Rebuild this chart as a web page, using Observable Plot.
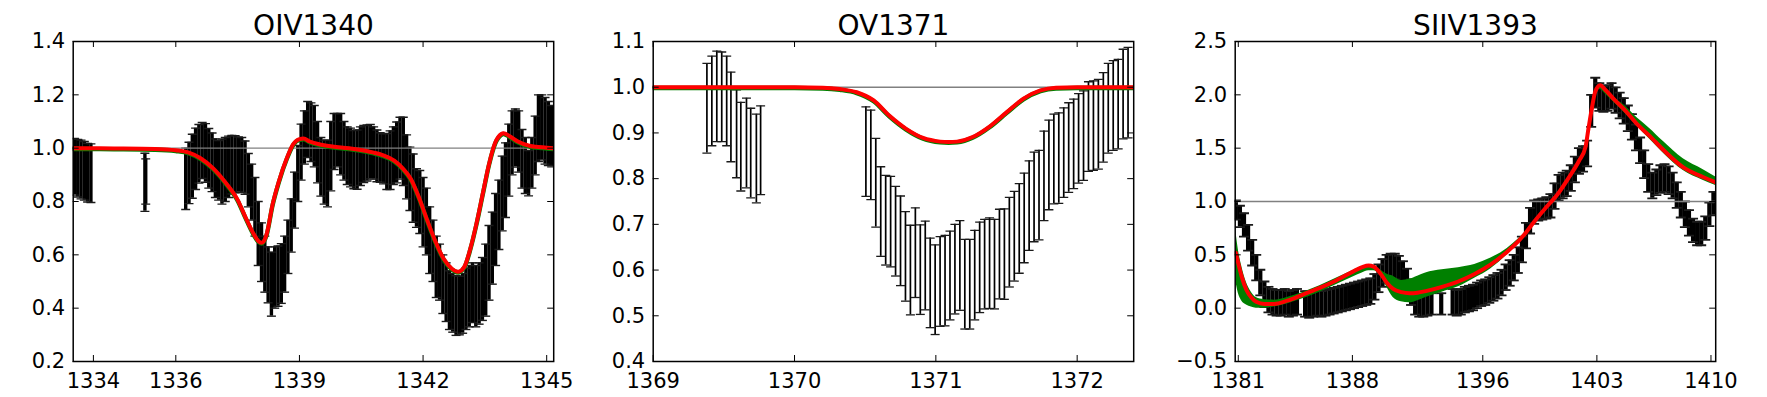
<!DOCTYPE html>
<html><head><meta charset="utf-8">
<script src="https://cdn.jsdelivr.net/npm/d3@7"></script>
<script src="https://cdn.jsdelivr.net/npm/@observablehq/plot@0.6"></script>
<style>
body{margin:0;background:#fff}
#wrap{position:relative;width:1767px;height:397px;background:#fff}
#wrap > svg{position:absolute;top:0}
</style>
</head><body><div id="wrap"></div>
<script>
// ---------- Panel 1: OIV1340 ----------
const oiv_title = "OIV1340";
const oiv_xticks = [1334, 1336, 1339, 1342, 1345];
const oiv_yticks = [0.2, 0.4, 0.6, 0.8, 1.0, 1.2, 1.4];
const oiv_wave = [
 1333.54,1333.62,1333.70,1333.78,1333.86,1333.94,
 1335.25,1335.27,
 1336.24,1336.32,1336.40,1336.48,1336.56,1336.64,1336.72,1336.80,1336.88,1336.96,
 1337.04,1337.12,1337.20,1337.28,1337.36,1337.44,1337.52,1337.60,1337.68,1337.76,1337.84,1337.92,
 1338.00,1338.08,1338.16,1338.24,1338.32,1338.40,1338.48,1338.56,1338.64,1338.72,1338.80,1338.88,1338.96,
 1339.04,1339.12,1339.20,1339.28,1339.36,1339.44,1339.52,1339.60,1339.68,1339.76,1339.84,1339.92,
 1340.00,1340.08,1340.16,1340.24,1340.32,1340.40,1340.48,1340.56,1340.64,1340.72,1340.80,1340.88,1340.96,
 1341.04,1341.12,1341.20,1341.28,1341.36,1341.44,1341.52,1341.60,1341.68,1341.76,1341.84,1341.92,
 1342.00,1342.08,1342.16,1342.24,1342.32,1342.40,1342.48,1342.56,1342.64,1342.72,1342.80,1342.88,1342.96,
 1343.04,1343.12,1343.20,1343.28,1343.36,1343.44,1343.52,1343.60,1343.68,1343.76,1343.84,1343.92,
 1344.00,1344.08,1344.16,1344.24,1344.32,1344.40,1344.48,1344.56,1344.64,1344.72,1344.80,1344.88,1344.96,
 1345.04,1345.12];
const oiv_flux = [
 0.930,0.925,0.920,0.915,0.908,0.906,
 0.872,0.875,
 0.885,0.907,0.932,0.960,0.979,0.991,0.982,0.962,0.947,0.925,
 0.917,0.912,0.920,0.930,0.938,0.940,0.939,0.937,0.927,0.880,0.835,0.780,
 0.680,0.610,0.565,0.525,0.490,0.515,0.520,0.530,0.565,0.630,0.710,0.805,0.905,
 0.985,1.040,1.070,1.060,1.045,0.985,0.930,0.910,0.905,0.970,1.025,1.030,
 1.015,0.990,0.972,0.965,0.957,0.957,0.970,0.978,0.982,0.987,0.982,0.971,0.965,
 0.960,0.950,0.955,0.972,0.984,1.000,0.988,0.930,0.885,0.850,0.813,0.798,
 0.760,0.725,0.655,0.615,0.555,0.535,0.490,0.460,0.430,0.420,0.410,0.410,0.418,
 0.435,0.445,0.458,0.445,0.455,0.472,0.505,0.570,0.625,0.695,0.750,0.830,
 0.880,0.955,1.020,1.038,1.025,0.960,0.935,0.906,0.945,1.010,1.075,1.078,1.065,
 1.055,1.045];
const oiv_err = [
 0.106,0.108,0.110,0.110,0.110,0.110,
 0.109,0.085,
 0.115,0.115,0.120,0.115,0.110,0.105,0.110,0.112,0.110,0.110,
 0.112,0.122,0.120,0.115,0.110,0.107,0.103,0.103,0.100,0.100,0.105,0.110,
 0.120,0.110,0.105,0.105,0.120,0.115,0.113,0.112,0.105,0.100,0.100,0.105,0.105,
 0.105,0.100,0.105,0.110,0.115,0.115,0.110,0.120,0.125,0.130,0.105,0.100,
 0.115,0.110,0.108,0.110,0.109,0.111,0.110,0.107,0.105,0.102,0.098,0.097,0.093,
 0.094,0.105,0.110,0.108,0.114,0.116,0.128,0.120,0.119,0.128,0.110,0.118,
 0.130,0.125,0.125,0.115,0.115,0.105,0.110,0.110,0.110,0.110,0.112,0.110,0.112,
 0.115,0.115,0.112,0.115,0.115,0.118,0.135,0.140,0.135,0.135,0.130,0.140,
 0.140,0.135,0.120,0.109,0.115,0.110,0.105,0.085,0.095,0.110,0.125,0.122,0.125,
 0.120,0.115];
const oiv_model_wave = [1333.5,1334.5,1335.5,1336.0,1336.3,1336.6,1336.9,1337.2,1337.5,1337.7,1337.9,1338.0,1338.08,1338.2,1338.35,1338.5,1338.7,1338.85,1339.0,1339.1,1339.25,1339.5,1339.8,1340.2,1340.6,1341.0,1341.3,1341.5,1341.7,1341.9,1342.1,1342.3,1342.5,1342.7,1342.85,1343.0,1343.15,1343.3,1343.45,1343.6,1343.75,1343.9,1343.95,1344.1,1344.3,1344.6,1345.0,1345.17];
const oiv_model_flux = [1.000,0.999,0.997,0.992,0.984,0.962,0.925,0.872,0.806,0.738,0.675,0.652,0.645,0.675,0.790,0.875,0.965,1.015,1.034,1.036,1.025,1.014,1.006,1.000,0.990,0.975,0.953,0.925,0.885,0.815,0.730,0.650,0.585,0.548,0.537,0.555,0.625,0.720,0.830,0.940,1.020,1.053,1.056,1.045,1.025,1.008,1.002,1.000];

// ---------- Panel 2: OV1371 ----------
const ov_title = "OV1371";
const ov_xticks = [1369, 1370, 1371, 1372];
const ov_yticks = [0.4, 0.5, 0.6, 0.7, 0.8, 0.9, 1.0, 1.1];
const ov_wave = [
 1369.380,1369.415,1369.450,1369.485,1369.520,1369.550,1369.590,1369.620,1369.660,1369.690,1369.730,1369.760,
 1370.505,1370.540,1370.575,1370.610,1370.645,1370.680,1370.715,1370.750,1370.785,1370.820,
 1370.855,1370.890,1370.925,1370.960,1370.995,1371.030,1371.065,1371.100,1371.135,1371.170,
 1371.205,1371.240,1371.275,1371.310,1371.345,1371.380,1371.415,1371.450,1371.485,1371.520,
 1371.555,1371.590,1371.625,1371.660,1371.695,1371.730,1371.765,1371.800,1371.835,1371.870,
 1371.905,1371.940,1371.975,1372.010,1372.045,1372.080,1372.115,1372.150,1372.185,1372.220,
 1372.255,1372.290,1372.325,1372.360];
const ov_flux = [
 0.954,0.970,0.980,0.979,0.970,0.935,0.898,0.870,0.878,0.856,0.844,0.862,
 0.859,0.852,0.791,0.728,0.709,0.706,0.685,0.664,0.630,0.600,
 0.638,0.601,0.610,0.572,0.557,0.575,0.577,0.588,0.602,0.610,
 0.569,0.569,0.589,0.606,0.613,0.615,0.613,0.635,0.635,0.661,
 0.674,0.691,0.714,0.741,0.760,0.764,0.806,0.830,0.843,0.845,
 0.857,0.868,0.876,0.888,0.894,0.914,0.916,0.919,0.934,0.954,
 0.960,0.963,0.985,0.988];
const ov_err = [
 0.098,0.098,0.099,0.098,0.098,0.098,0.096,0.097,0.098,0.098,0.097,0.097,
 0.098,0.098,0.097,0.098,0.098,0.099,0.098,0.098,0.098,0.098,
 0.098,0.098,0.097,0.098,0.098,0.098,0.099,0.097,0.098,0.098,
 0.098,0.098,0.098,0.099,0.098,0.099,0.098,0.098,0.099,0.098,
 0.098,0.098,0.098,0.098,0.098,0.098,0.098,0.098,0.098,0.099,
 0.098,0.098,0.098,0.098,0.098,0.098,0.098,0.098,0.098,0.098,
 0.098,0.098,0.098,0.099];
const ov_model_wave = [1369.0,1370.0,1370.2,1370.32,1370.44,1370.56,1370.67,1370.79,1370.91,1371.03,1371.09,1371.15,1371.26,1371.38,1371.50,1371.62,1371.74,1371.85,1372.0,1372.4];
const ov_model_flux = [1.000,1.000,0.999,0.996,0.989,0.971,0.938,0.909,0.889,0.881,0.880,0.881,0.891,0.914,0.945,0.975,0.993,0.999,1.000,1.000];

// ---------- Panel 3: SIIV1393 ----------
const siiv_title = "SIIV1393";
const siiv_xticks = [1381, 1388, 1396, 1403, 1410];
const siiv_yticks = [-0.5, 0.0, 0.5, 1.0, 1.5, 2.0, 2.5];
const siiv_wave = [
 1380.85,1381.10,1381.35,1381.60,1381.85,1382.10,1382.35,1382.60,1382.85,1383.10,
 1383.35,1383.60,1383.85,1384.10,1384.35,1384.60,1385.10,1385.35,1385.60,1385.85,
 1386.10,1386.35,1386.60,1386.85,1387.10,1387.35,1387.60,1387.85,1388.10,1388.35,
 1388.60,1388.85,1389.10,1389.35,1389.60,1389.85,1390.10,1390.35,1390.60,1390.85,
 1391.10,1391.35,1391.60,1391.85,1392.10,1392.35,1392.60,1392.85,1393.45,1394.15,
 1394.40,1394.65,1394.90,1395.15,1395.40,1395.65,1395.90,1396.15,1396.40,1396.65,
 1396.90,1397.15,1397.40,1397.65,1397.90,1398.15,1398.40,1398.65,1398.90,1399.15,
 1399.40,1399.65,1399.90,1400.15,1400.40,1400.65,1400.90,1401.15,1401.40,1401.65,
 1401.90,1402.15,1402.40,1402.65,1402.90,1403.15,1403.40,1403.65,1403.90,1404.15,
 1404.40,1404.65,1404.90,1405.15,1405.40,1405.65,1405.90,1406.15,1406.40,1406.65,
 1406.90,1407.15,1407.40,1407.65,1407.90,1408.15,1408.40,1408.65,1408.90,1409.15,
 1409.40,1409.65,1409.90,1410.15];
const siiv_flux = [
 0.92,0.86,0.78,0.66,0.52,0.38,0.24,0.13,0.08,0.06,
 0.05,0.05,0.06,0.04,0.05,0.06,0.04,0.03,0.04,0.05,
 0.04,0.05,0.06,0.07,0.08,0.09,0.10,0.11,0.12,0.13,
 0.14,0.15,0.16,0.20,0.28,0.33,0.37,0.38,0.39,0.37,
 0.32,0.25,0.15,0.06,0.02,0.02,0.03,0.04,0.04,0.06,
 0.05,0.06,0.08,0.09,0.10,0.12,0.14,0.15,0.17,0.19,
 0.21,0.24,0.29,0.33,0.38,0.45,0.55,0.68,0.82,0.90,
 0.92,0.93,0.94,0.96,1.05,1.13,1.15,1.17,1.22,1.30,
 1.38,1.40,1.45,1.85,2.02,1.98,1.96,1.97,1.99,1.95,
 1.90,1.85,1.78,1.70,1.60,1.48,1.35,1.22,1.15,1.18,
 1.21,1.22,1.20,1.15,1.06,0.97,0.88,0.80,0.73,0.70,
 0.70,0.75,0.88,0.98];
const siiv_err = [
 0.09,0.10,0.11,0.12,0.12,0.12,0.12,0.12,0.12,0.12,
 0.12,0.12,0.12,0.12,0.12,0.12,0.12,0.12,0.12,0.12,
 0.12,0.12,0.12,0.12,0.12,0.12,0.12,0.12,0.12,0.12,
 0.12,0.12,0.12,0.12,0.13,0.13,0.13,0.13,0.12,0.12,
 0.12,0.12,0.12,0.12,0.10,0.10,0.10,0.10,0.10,0.12,
 0.12,0.12,0.12,0.12,0.12,0.12,0.12,0.12,0.12,0.12,
 0.12,0.12,0.12,0.12,0.12,0.12,0.12,0.12,0.12,0.11,
 0.10,0.10,0.10,0.11,0.12,0.12,0.12,0.12,0.12,0.12,
 0.12,0.12,0.12,0.15,0.14,0.13,0.12,0.12,0.12,0.12,
 0.12,0.12,0.12,0.12,0.12,0.12,0.13,0.13,0.12,0.12,
 0.13,0.13,0.13,0.12,0.12,0.12,0.12,0.12,0.11,0.11,
 0.11,0.11,0.11,0.11];
const siiv_model_wave = [1380.85,1381.0,1381.2,1381.5,1381.8,1382.1,1382.6,1383.2,1384.0,1385.0,1386.0,1387.0,1388.0,1388.6,1389.0,1389.3,1389.7,1390.1,1390.5,1391.0,1391.5,1392.0,1392.5,1393.5,1394.5,1395.5,1396.5,1397.5,1398.2,1398.6,1399.2,1399.8,1400.6,1401.3,1401.9,1402.3,1402.5,1402.7,1402.9,1403.2,1403.5,1404.1,1404.7,1405.5,1406.2,1407.1,1408.3,1409.5,1410.29];
const siiv_model_flux = [0.52,0.42,0.30,0.17,0.10,0.06,0.04,0.04,0.07,0.13,0.19,0.26,0.34,0.385,0.40,0.39,0.33,0.24,0.18,0.15,0.14,0.145,0.16,0.20,0.25,0.32,0.41,0.53,0.63,0.70,0.82,0.93,1.07,1.23,1.38,1.51,1.70,1.88,2.03,2.09,2.05,1.95,1.86,1.72,1.62,1.48,1.32,1.23,1.18];
const siiv_band_lo = [0.25,0.14,0.07,0.03,0.01,0.00,0.00,0.01,0.04,0.09,0.15,0.22,0.29,0.33,0.35,0.35,0.31,0.20,0.10,0.06,0.05,0.07,0.10,0.15,0.20,0.28,0.37,0.50,0.61,0.68,0.80,0.91,1.05,1.21,1.36,1.49,1.67,1.85,2.00,2.05,2.01,1.92,1.83,1.70,1.59,1.45,1.29,1.20,1.15];
const siiv_band_hi = [0.72,0.55,0.40,0.24,0.15,0.10,0.08,0.075,0.10,0.15,0.21,0.28,0.35,0.39,0.40,0.39,0.36,0.32,0.30,0.26,0.27,0.30,0.33,0.36,0.38,0.41,0.47,0.56,0.65,0.71,0.83,0.94,1.08,1.24,1.39,1.52,1.71,1.89,2.04,2.10,2.06,1.97,1.90,1.78,1.69,1.56,1.40,1.30,1.23];

// ---------- drawing ----------
const FW = 480.5, FH = 320;
const cap = {draw(ctx, size) { const r = Math.sqrt(size / Math.PI); ctx.moveTo(-r, 0); ctx.lineTo(r, 0); }};

function panel(c) {
  const bars = c.wave.map((x, i) => ({x, lo: c.flux[i] - c.err[i], hi: c.flux[i] + c.err[i]}));
  const model = c.mwave.map((x, i) => ({x, y: c.mflux[i]}));
  const marks = [
    Plot.ruleX(bars, {x: "x", y1: "lo", y2: "hi", stroke: "black", strokeWidth: c.barW, clip: true}),
    Plot.dot(bars, {x: "x", y: "lo", symbol: cap, r: c.capR, stroke: "#1a1a1a", strokeWidth: c.capW, fill: "none", clip: true}),
    Plot.dot(bars, {x: "x", y: "hi", symbol: cap, r: c.capR, stroke: "#1a1a1a", strokeWidth: c.capW, fill: "none", clip: true}),
    Plot.ruleY([1], {stroke: "#808080", strokeWidth: 1.4})
  ];
  if (c.bandLo) {
    const band = c.mwave.map((x, i) => ({x, lo: c.bandLo[i], hi: c.bandHi[i]}));
    marks.push(Plot.areaY(band, {x: "x", y1: "lo", y2: "hi", fill: "green", curve: "monotone-x", clip: true}));
  } else {
    marks.push(Plot.line(model, {x: "x", y: "y", stroke: "green", strokeWidth: 4.4, dy: 0.8, curve: "monotone-x", clip: true}));
  }
  marks.push(
    Plot.line(model, {x: "x", y: "y", stroke: "red", strokeWidth: 4, curve: "monotone-x", clip: true}),
    Plot.tickX(c.xticks, {x: d => d, insetTop: FH - 6, stroke: "black", strokeWidth: 1}),
    Plot.tickX(c.xticks, {x: d => d, insetBottom: FH - 6, stroke: "black", strokeWidth: 1}),
    Plot.tickY(c.yticks, {y: d => d, insetRight: FW - 6, stroke: "black", strokeWidth: 1}),
    Plot.tickY(c.yticks, {y: d => d, insetLeft: FW - 6, stroke: "black", strokeWidth: 1}),
    Plot.frame({stroke: "black", strokeWidth: 1.5}),
    Plot.axisX(c.xticks, {label: null, tickSize: 0, tickPadding: 12, fontSize: 21, tickFormat: d => String(d)}),
    Plot.axisY(c.yticks, {label: null, tickSize: 0, tickPadding: 8, fontSize: 21, tickFormat: d3.format(".1f")}),
    Plot.text([c.title], {frameAnchor: "top", dy: -7, lineAnchor: "bottom", fontSize: 28})
  );
  const svg = Plot.plot({
    width: 581, height: 397,
    marginLeft: 72.7, marginRight: 581 - 72.7 - FW, marginTop: 41, marginBottom: 397 - 41 - FH,
    x: {domain: c.xdomain, axis: null},
    y: {domain: c.ydomain, axis: null},
    style: {fontFamily: "DejaVu Sans", color: "black", background: "transparent", overflow: "visible"},
    marks
  });
  svg.style.left = c.left + "px";
  return svg;
}

const wrap = document.getElementById("wrap");
wrap.append(
  panel({title: oiv_title, left: 0, xdomain: [1333.51, 1345.17], ydomain: [0.2, 1.4], xticks: oiv_xticks, yticks: oiv_yticks,
         wave: oiv_wave, flux: oiv_flux, err: oiv_err, mwave: oiv_model_wave, mflux: oiv_model_flux, barW: 3.4, capR: 4.5, capW: 1.4}),
  panel({title: ov_title, left: 580, xdomain: [1369.0, 1372.40], ydomain: [0.4, 1.1], xticks: ov_xticks, yticks: ov_yticks,
         wave: ov_wave, flux: ov_flux, err: ov_err, mwave: ov_model_wave, mflux: ov_model_flux, barW: 1.7, capR: 4.5, capW: 1.3}),
  panel({title: siiv_title, left: 1161.6, xdomain: [1380.81, 1410.29], ydomain: [-0.5, 2.5], xticks: siiv_xticks, yticks: siiv_yticks,
         wave: siiv_wave, flux: siiv_flux, err: siiv_err, mwave: siiv_model_wave, mflux: siiv_model_flux,
         bandLo: siiv_band_lo, bandHi: siiv_band_hi, barW: 4.2, capR: 5, capW: 1.8})
);
</script>
</body></html>
